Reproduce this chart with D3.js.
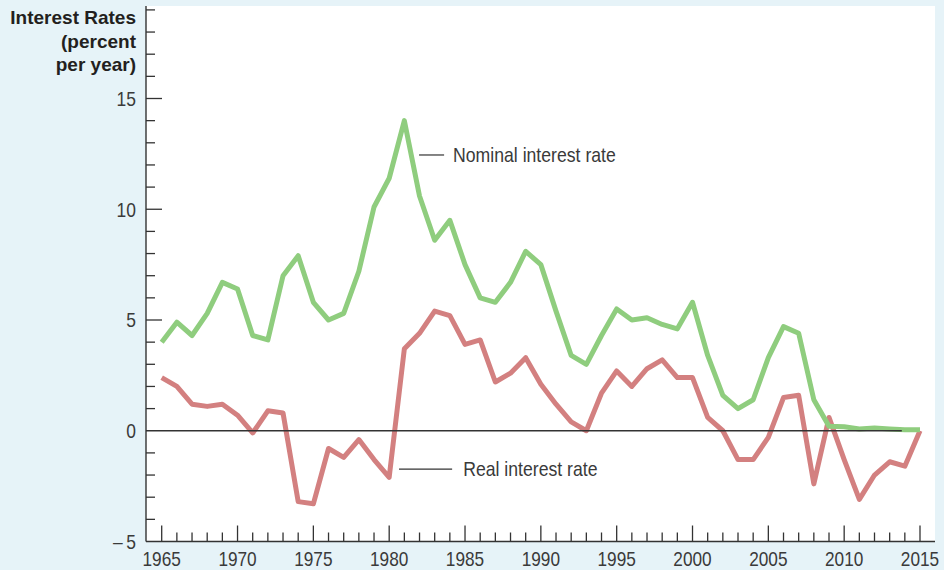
<!DOCTYPE html>
<html>
<head>
<meta charset="utf-8">
<script src="https://cdn.jsdelivr.net/npm/d3@7"></script>
<style>
  html, body { margin: 0; padding: 0; background: #e6f3f8; }
  svg { display: block; }
  .tick-label { font-family: "Liberation Sans", Arial, sans-serif; font-size: 21px; fill: #3a3a3a; }
  .title { font-family: "Liberation Sans", Arial, sans-serif; font-weight: bold; font-size: 19px; fill: #231f20; }
  .annot { font-family: "Liberation Sans", Arial, sans-serif; font-size: 21px; fill: #3a3a3a; }
</style>
</head>
<body>
<script>
// ---- Data ----
const years = d3.range(1965, 2016);
const nominalRate = [4.0, 4.9, 4.3, 5.3, 6.7, 6.4, 4.3, 4.1, 7.0, 7.9,
                     5.8, 5.0, 5.3, 7.2, 10.1, 11.4, 14.0, 10.6, 8.6, 9.5,
                     7.5, 6.0, 5.8, 6.7, 8.1, 7.5, 5.4, 3.4, 3.0, 4.3,
                     5.5, 5.0, 5.1, 4.8, 4.6, 5.8, 3.4, 1.6, 1.0, 1.4,
                     3.3, 4.7, 4.4, 1.4, 0.2, 0.18, 0.08, 0.12, 0.08, 0.05,
                     0.05];
const realRate = [2.4, 2.0, 1.2, 1.1, 1.2, 0.7, -0.1, 0.9, 0.8, -3.2,
                  -3.3, -0.8, -1.2, -0.4, -1.3, -2.1, 3.7, 4.4, 5.4, 5.2,
                  3.9, 4.1, 2.2, 2.6, 3.3, 2.1, 1.2, 0.4, 0.0, 1.7,
                  2.7, 2.0, 2.8, 3.2, 2.4, 2.4, 0.6, 0.0, -1.3, -1.3,
                  -0.3, 1.5, 1.6, -2.4, 0.6, -1.3, -3.1, -2.0, -1.4, -1.6,
                  0.0];
const yTickValues = [-5, 0, 5, 10, 15];
const yTickLabels = ["\u2013\u20095", "0", "5", "10", "15"];
const xTickValues = [1965, 1970, 1975, 1980, 1985, 1990, 1995, 2000, 2005, 2010, 2015];
const titleLines = ["Interest Rates", "(percent", "per year)"];
const annotations = [
  {text: "Nominal interest rate", x0: 1981.97, x1: 1983.62, xt: 1984.21, v: 12.45},
  {text: "Real interest rate",    x0: 1980.65, x1: 1984.15, xt: 1984.88, v: -1.73}
];

// ---- Layout ----
const W = 944, H = 570;
const plotLeft = 146, plotRight = 935, plotTop = 6, plotBottom = 541.5;

const x = d3.scaleLinear().domain([1965, 2015]).range([161.7, 920]);
const y = d3.scaleLinear().domain([-5, 15]).range([541.5, 98.5]);

const svg = d3.select("body").append("svg").attr("width", W).attr("height", H);

// condense text horizontally to mimic a condensed typeface
function condense(sel, factor) {
  sel.each(function() {
    const w = this.getComputedTextLength();
    d3.select(this).attr("textLength", w * factor).attr("lengthAdjust", "spacingAndGlyphs");
  });
}

svg.append("rect").attr("width", W).attr("height", H).attr("fill", "#e6f3f8");
svg.append("rect")
  .attr("x", plotLeft).attr("y", plotTop)
  .attr("width", plotRight - plotLeft).attr("height", plotBottom - plotTop)
  .attr("fill", "#ffffff");

const axisColor = "#333333";

// Y axis
const yMax = y.invert(plotTop);
const yMinor = d3.range(-4, Math.floor(yMax) + 1).filter(v => v % 5 !== 0);
const yAxisG = svg.append("g").attr("transform", `translate(${plotLeft},0)`);
yAxisG.selectAll("line.minor").data(yMinor).join("line")
  .attr("x1", 0).attr("x2", 9)
  .attr("y1", d => y(d)).attr("y2", d => y(d))
  .attr("stroke", axisColor).attr("stroke-width", 1.3);
yAxisG.selectAll("line.major").data(yTickValues.filter(v => v > 0)).join("line")
  .attr("x1", 0).attr("x2", 16)
  .attr("y1", d => y(d)).attr("y2", d => y(d))
  .attr("stroke", axisColor).attr("stroke-width", 1.3);
yAxisG.selectAll("text").data(yTickValues).join("text")
  .attr("class", "tick-label")
  .attr("x", -10).attr("y", d => y(d)).attr("dy", "0.35em")
  .attr("text-anchor", "end")
  .text((d, i) => yTickLabels[i])
  .call(condense, 0.83);

// X axis
const xMinor = years.filter(v => v % 5 !== 0);
const xAxisG = svg.append("g").attr("transform", `translate(0,${plotBottom})`);
xAxisG.selectAll("line.minor").data(xMinor).join("line")
  .attr("x1", d => x(d)).attr("x2", d => x(d))
  .attr("y1", 0).attr("y2", -9)
  .attr("stroke", axisColor).attr("stroke-width", 1.3);
xAxisG.selectAll("line.major").data(xTickValues).join("line")
  .attr("x1", d => x(d)).attr("x2", d => x(d))
  .attr("y1", 0).attr("y2", -16)
  .attr("stroke", axisColor).attr("stroke-width", 1.3);
xAxisG.selectAll("text").data(xTickValues).join("text")
  .attr("class", "tick-label")
  .attr("x", d => x(d)).attr("y", 24.5)
  .attr("text-anchor", "middle")
  .text(d => d)
  .call(condense, 0.82);

// Series lines
const line = d3.line().x((d, i) => x(years[i])).y(d => y(d)).curve(d3.curveLinear);
svg.append("path").datum(realRate)
  .attr("d", line).attr("fill", "none")
  .attr("stroke", "#d38080").attr("stroke-width", 5)
  .attr("stroke-linejoin", "round").attr("stroke-linecap", "butt");
svg.append("path").datum(nominalRate)
  .attr("d", line).attr("fill", "none")
  .attr("stroke", "#8fcd7e").attr("stroke-width", 5)
  .attr("stroke-linejoin", "round").attr("stroke-linecap", "butt");

// Zero line
svg.append("line")
  .attr("x1", plotLeft).attr("x2", x(2013.8))
  .attr("y1", y(0)).attr("y2", y(0))
  .attr("stroke", axisColor).attr("stroke-width", 1.3);

// Axis lines
svg.append("line").attr("x1", plotLeft).attr("x2", plotLeft)
  .attr("y1", plotTop).attr("y2", plotBottom)
  .attr("stroke", axisColor).attr("stroke-width", 1.4);
svg.append("line").attr("x1", plotLeft).attr("x2", plotRight)
  .attr("y1", plotBottom).attr("y2", plotBottom)
  .attr("stroke", axisColor).attr("stroke-width", 1.4);

// Annotations
annotations.forEach(a => {
  svg.append("line")
    .attr("x1", x(a.x0)).attr("x2", x(a.x1))
    .attr("y1", y(a.v)).attr("y2", y(a.v))
    .attr("stroke", axisColor).attr("stroke-width", 1.2);
  svg.append("text").attr("class", "annot")
    .attr("x", x(a.xt)).attr("y", y(a.v)).attr("dy", "0.35em")
    .text(a.text)
    .call(condense, 0.84);
});

// Title
svg.append("g").selectAll("text").data(titleLines).join("text")
  .attr("class", "title")
  .attr("x", 136).attr("y", (d, i) => 24 + i * 23.7)
  .attr("text-anchor", "end")
  .text(d => d);
</script>
</body>
</html>
